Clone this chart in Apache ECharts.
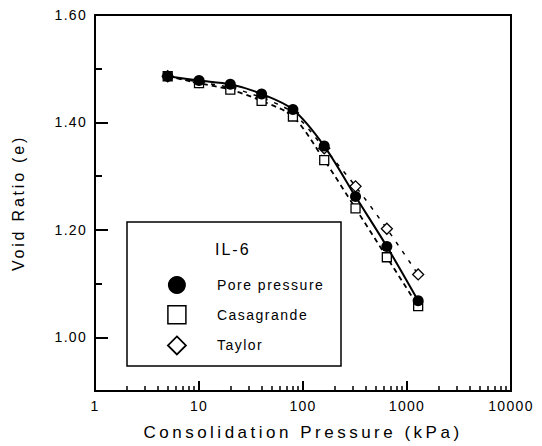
<!DOCTYPE html>
<html><head><meta charset="utf-8">
<script src="https://cdn.jsdelivr.net/npm/echarts@6/dist/echarts.min.js"></script>
<style>html,body{margin:0;padding:0;background:#fff}#c{width:542px;height:446px}</style>
</head><body><div id="c"></div>
<script>
var pressures = [5, 10, 20, 40, 80, 160, 320, 640, 1280];
var porePressure = [1.486, 1.478, 1.471, 1.453, 1.424, 1.356, 1.262, 1.169, 1.068];
var casagrande = [1.486, 1.473, 1.461, 1.440, 1.411, 1.330, 1.240, 1.149, 1.058];
var taylor = [1.486, 1.475, 1.465, 1.446, 1.418, 1.352, 1.281, 1.202, 1.117];
var xMajorTicks = [1, 10, 100, 1000, 10000];
var xMinorTicks = [];
[1, 10, 100, 1000].forEach(function(d){ for (var k = 2; k <= 9; k++) xMinorTicks.push(d * k); });
var yMajorTicks = [1.0, 1.2, 1.4, 1.6];
var yMinorTicks = [1.1, 1.3, 1.5];
var seriesNames = ['Pore pressure', 'Casagrande', 'Taylor'];
var legendTitle = 'IL-6';
var xTitle = 'Consolidation Pressure (kPa)';
var yTitle = 'Void Ratio (e)';

function pairs(v){ return pressures.map(function(p,i){ return [p, v[i]]; }); }
var font = '"Liberation Sans", Arial, Helvetica, sans-serif';
var chart = echarts.init(document.getElementById('c'), null, {renderer:'svg'});
chart.setOption({
  animation: false,
  backgroundColor: '#fff',
  grid: {left: 95, right: 31, top: 15, bottom: 51, show: true, borderColor: '#000', borderWidth: 2, backgroundColor: 'transparent'},
  xAxis: [{
    type: 'log', logBase: 10, min: 1, max: 10000,
    name: xTitle, nameLocation: 'middle', nameGap: 33,
    nameTextStyle: {fontFamily: font, fontSize: 17, color: '#000'},
    axisLine: {show: true, lineStyle: {color: '#000', width: 2}},
    axisTick: {show: true, inside: true, length: 10, lineStyle: {color: '#000', width: 2}, customValues: xMajorTicks},
    axisLabel: {fontFamily: font, fontSize: 14, color: '#000', margin: 8, customValues: xMajorTicks, formatter: function(v){ return String(Math.round(v)); }},
    splitLine: {show: false}
  }, {
    type: 'log', logBase: 10, min: 1, max: 10000, position: 'bottom',
    axisLine: {show: false},
    axisTick: {show: true, inside: true, length: 5, lineStyle: {color: '#000', width: 1.5}, customValues: xMinorTicks},
    axisLabel: {show: false},
    splitLine: {show: false}
  }],
  yAxis: [{
    type: 'value', min: 0.9, max: 1.6,
    name: yTitle, nameLocation: 'middle', nameGap: 69, nameRotate: 90,
    nameTextStyle: {fontFamily: font, fontSize: 16, color: '#000'},
    axisLine: {show: true, lineStyle: {color: '#000', width: 2}},
    axisTick: {show: true, inside: true, length: 13, lineStyle: {color: '#000', width: 2}, customValues: yMajorTicks},
    axisLabel: {fontFamily: font, fontSize: 14, color: '#000', margin: 8, customValues: yMajorTicks, formatter: function(v){ return v.toFixed(2); }},
    splitLine: {show: false}
  }, {
    type: 'value', min: 0.9, max: 1.6, position: 'left',
    axisLine: {show: false},
    axisTick: {show: true, inside: true, length: 7, lineStyle: {color: '#000', width: 2}, customValues: yMinorTicks},
    axisLabel: {show: false},
    splitLine: {show: false}
  }],
  legend: {
    orient: 'vertical', left: 162, top: 271, itemWidth: 18, itemHeight: 18, itemGap: 11,
    textStyle: {fontFamily: font, fontSize: 14, color: '#000', padding: [0,0,0,26]},
    data: [
      {name: seriesNames[0], icon: 'circle'},
      {name: seriesNames[1], icon: 'rect', itemStyle: {borderWidth: 1.5}},
      {name: seriesNames[2], icon: 'diamond', itemStyle: {borderWidth: 1.8}}
    ],
    selectedMode: false
  },
  graphic: [
    {type: 'rect', shape: {x: 127, y: 222, width: 214, height: 144}, style: {fill: 'transparent', stroke: '#000', lineWidth: 1.5}, z: 100},
    {type: 'text', left: 215, top: 241, style: {text: legendTitle, font: '16px ' + font, fill: '#000'}, z: 100}
  ],
  series: [
    {name: seriesNames[2], type: 'line', data: pairs(taylor), smooth: 0.3,
     symbol: 'diamond', symbolSize: 11, showSymbol: true,
     lineStyle: {color: '#000', width: 1.5, type: [4, 7]},
     itemStyle: {color: '#fff', borderColor: '#000', borderWidth: 1.3}, z: 2},
    {name: seriesNames[1], type: 'line', data: pairs(casagrande), smooth: 0.3,
     symbol: 'rect', symbolSize: 9, showSymbol: true,
     lineStyle: {color: '#000', width: 1.8, type: [5, 4]},
     itemStyle: {color: '#fff', borderColor: '#000', borderWidth: 1.3}, z: 3},
    {name: seriesNames[0], type: 'line', data: pairs(porePressure), smooth: 0.3,
     symbol: 'circle', symbolSize: 11, showSymbol: true,
     lineStyle: {color: '#000', width: 2},
     itemStyle: {color: '#000', borderColor: '#000', borderWidth: 0}, z: 4}
  ]
});
function spaceText(){
  var texts = document.querySelectorAll('#c svg text');
  texts.forEach(function(t){
    var s = t.textContent;
    var sp = 1.3;
    if (s === xTitle) sp = 3.5;
    else if (s === yTitle) sp = 2.8;
    else if (s === legendTitle) sp = 2;
    else if (seriesNames.indexOf(s) >= 0) sp = 1.5;
    t.setAttribute('letter-spacing', sp + 'px');
    t.style.letterSpacing = sp + 'px';
  });
}
chart.on('finished', spaceText);
spaceText();
setTimeout(spaceText, 50);
</script></body></html>
